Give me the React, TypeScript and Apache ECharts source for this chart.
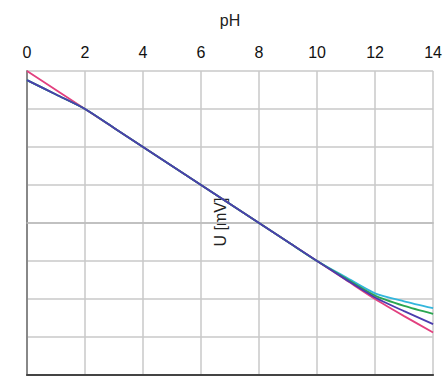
import React, { useEffect, useRef } from "react";
import * as echarts from "echarts";

const phValues = [0, 1, 2, 3, 4, 5, 6, 7, 8, 9, 10, 11, 12, 13, 14];
const pinkU = [400, 350, 300, 250, 200, 150, 100, 50, 0, -50, -100, -150, -200, -245, -288];
const purpleU = [376, 338, 300, 250, 200, 150, 100, 50, 0, -50, -100, -149, -196, -232, -266];
const greenU = [376, 338, 300, 250, 200, 150, 100, 50, 0, -50, -100, -146, -191, -218, -239];
const cyanU = [376, 338, 300, 250, 200, 150, 100, 50, 0, -50, -100, -143, -185, -206, -224];
const xTicks = [0, 2, 4, 6, 8, 10, 12, 14];

const pair = (ys: number[]) => phValues.map((x, i) => [x, ys[i]]);

export default function App() {
  const ref = useRef<HTMLDivElement>(null);
  useEffect(() => {
    const chart = echarts.init(ref.current!, undefined, { renderer: "svg" });
    const font = "Liberation Sans, Arial, sans-serif";
    const mk = (name: string, data: number[], color: string) => ({
      name,
      type: "line",
      data: pair(data),
      symbol: "none",
      smooth: 0.25,
      lineStyle: { color, width: 1.8 },
      itemStyle: { color },
    });
    chart.setOption({
      animation: false,
      grid: { left: 27, right: 6, top: 71, bottom: 1 },
      xAxis: [
        {
          type: "value",
          position: "top",
          min: xTicks[0],
          max: xTicks[xTicks.length - 1],
          interval: 2,
          name: "pH",
          nameLocation: "middle",
          nameGap: 43,
          nameTextStyle: { fontFamily: font, fontSize: 16, color: "#222" },
          axisLabel: { fontFamily: font, fontSize: 16, color: "#111", margin: 11 },
          axisTick: { show: false },
          axisLine: { show: true, lineStyle: { color: "#bbb", width: 1.5 } },
          splitLine: { show: true, lineStyle: { color: "#c8c8c8", width: 1.5 } },
        },
        {
          type: "value",
          position: "bottom",
          min: 0,
          max: 14,
          axisLabel: { show: false },
          axisTick: { show: false },
          axisLine: { show: true, lineStyle: { color: "#444", width: 2 } },
          splitLine: { show: false },
        },
      ],
      yAxis: {
        type: "value",
        min: -400,
        max: 400,
        interval: 100,
        axisLabel: { show: false },
        axisTick: { show: false },
        axisLine: { show: true, lineStyle: { color: "#888", width: 2 } },
        splitLine: { show: true, lineStyle: { color: "#c8c8c8", width: 1.5 } },
      },
      graphic: [
        {
          type: "text",
          x: 220,
          y: 222,
          rotation: Math.PI / 2,
          style: {
            text: "U [mV]",
            fontFamily: font,
            fontSize: 16,
            fill: "#222",
            textAlign: "center",
            textVerticalAlign: "middle",
          },
        },
      ],
      series: [
        mk("pink", pinkU, "#e2407f"),
        mk("cyan", cyanU, "#33b6dc"),
        mk("green", greenU, "#2aa650"),
        mk("purple", purpleU, "#4b3cae"),
      ],
    });
    return () => chart.dispose();
  }, []);
  return <div ref={ref} style={{ width: 445, height: 376, position: "absolute", left: 0, top: 0 }} />;
}
